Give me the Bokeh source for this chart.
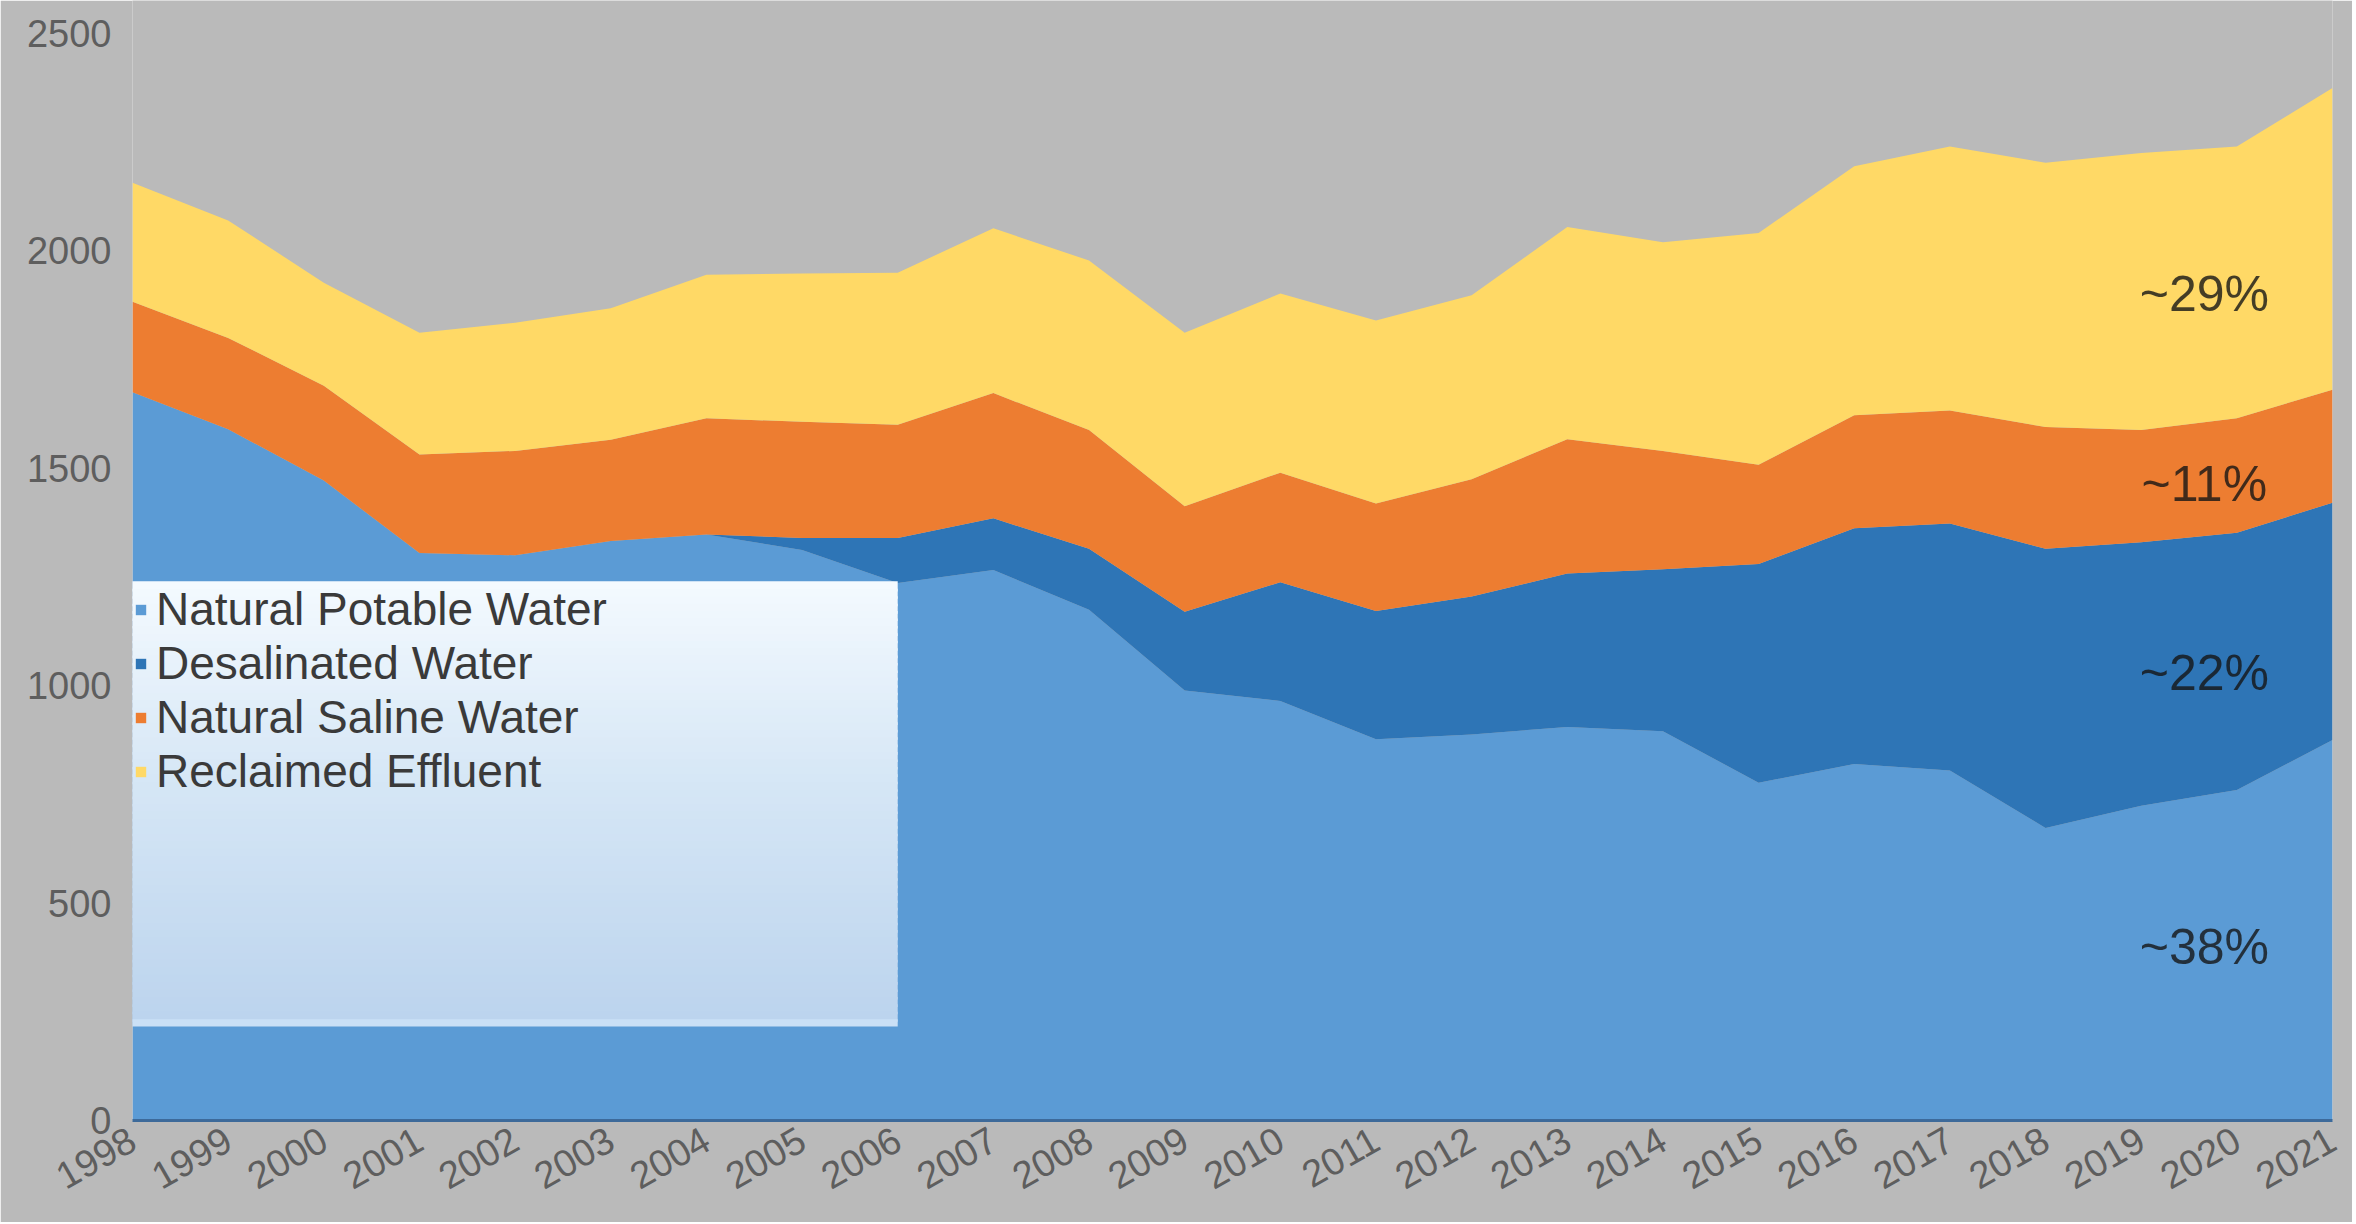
from bokeh.plotting import figure
from bokeh.models import (ColumnDataSource, Range1d, FixedTicker, Legend, LegendItem, Label)
from bokeh.embed import file_html
from bokeh.resources import INLINE

# ---------------- data ----------------
years = list(range(1998, 2022))
series_names = ["Natural Potable Water", "Desalinated Water", "Natural Saline Water", "Reclaimed Effluent"]
potable = [1675, 1590, 1472, 1305, 1300, 1333, 1348, 1312, 1236, 1266, 1175, 989,
           965, 877, 888, 905, 895, 777, 820, 805, 673, 724, 760, 875]
desalinated = [0, 0, 0, 0, 0, 0, 0, 28, 104, 119, 140, 181,
               273, 295, 317, 353, 373, 503, 542, 568, 642, 606, 592, 546]
saline = [208, 210, 218, 227, 240, 233, 267, 267, 260, 288, 273, 243,
          252, 247, 270, 309, 272, 228, 260, 260, 280, 258, 263, 260]
reclaimed = [274, 270, 237, 280, 295, 302, 330, 341, 350, 379, 390, 399,
             412, 421, 423, 488, 480, 533, 573, 607, 608, 637, 625, 694]
y_ticks = [0, 500, 1000, 1500, 2000, 2500]
share_labels = ["~29%", "~11%", "~22%", "~38%"]
share_y = [1902, 1463, 1030, 398]

colors = ["#5b9bd5", "#2e75b6", "#ed7d31", "#ffd966"]
keys = ["potable", "desal", "saline", "reclaimed"]

source = ColumnDataSource(dict(year=years, potable=potable, desal=desalinated,
                               saline=saline, reclaimed=reclaimed))

FONT = "Liberation Sans"
BG = "#bababa"

p = figure(width=2352, height=1222, output_backend="svg", toolbar_location=None,
           x_range=Range1d(1998, 2021), y_range=Range1d(0, 2576),
           min_border_left=132, min_border_right=20, min_border_top=0, min_border_bottom=102,
           background_fill_color=BG, border_fill_color=BG, outline_line_color=None)

renderers = p.varea_stack(stackers=keys, x="year", color=colors, source=source)

# legend panel with a white-to-blue gradient (decoration)
box_left, box_right, box_top, box_bottom = 1997.9, 2006.0, 1240, 216
n = 60
top_c = (244, 250, 255)
mid_c = (214, 231, 246)
bot_c = (188, 212, 238)
lefts, rights, tops, bottoms, cols = [], [], [], [], []
h = (box_top - box_bottom) / n
for i in range(n):
    t = i / (n - 1)
    if t < 0.45:
        u = t / 0.45
        c = [int(top_c[k] + (mid_c[k] - top_c[k]) * u) for k in range(3)]
    else:
        u = (t - 0.45) / 0.55
        c = [int(mid_c[k] + (bot_c[k] - mid_c[k]) * u) for k in range(3)]
    if i == n - 1:
        c = [202, 224, 246]
    tops.append(box_top - i * h)
    bottoms.append(max(box_bottom, box_top - (i + 1) * h - 6))
    lefts.append(box_left)
    rights.append(box_right)
    cols.append("#%02x%02x%02x" % tuple(c))
p.quad(left=lefts, right=rights, top=tops, bottom=bottoms, fill_color=cols, line_color=None)

legend = Legend(items=[LegendItem(label=series_names[i], renderers=[renderers[i]]) for i in range(4)],
                location=(2, 322), orientation="vertical",
                padding=0, margin=0, spacing=0,
                glyph_width=13, glyph_height=13, label_standoff=9, label_height=54,
                label_text_font=FONT, label_text_font_size="46px", label_text_color="#3a3a3a",
                background_fill_alpha=0, border_line_alpha=0)
p.add_layout(legend)

# axes
p.xgrid.visible = False
p.ygrid.visible = False

p.xaxis.ticker = FixedTicker(ticks=years)
p.xaxis.major_label_orientation = 0.52
p.xaxis.major_label_text_font = FONT
p.xaxis.major_label_text_font_size = "38px"
p.xaxis.major_label_text_color = "#5e5e5e"
p.xaxis.major_label_standoff = 10
p.xaxis.major_tick_line_color = None
p.xaxis.minor_tick_line_color = None
p.xaxis.axis_line_color = "#3d6a9a"
p.xaxis.axis_line_width = 3

p.yaxis.ticker = FixedTicker(ticks=y_ticks)
p.yaxis.major_label_text_font = FONT
p.yaxis.major_label_text_font_size = "38px"
p.yaxis.major_label_text_color = "#5e5e5e"
p.yaxis.major_label_standoff = 15
p.yaxis.major_tick_line_color = None
p.yaxis.minor_tick_line_color = None
p.yaxis.axis_line_color = None

# share annotations
for s, yv in zip(share_labels, share_y):
    p.add_layout(Label(x=2019.66, y=yv, text=s, text_align="center", text_baseline="middle",
                       text_font=FONT, text_font_size="50px", text_color="#151515",
                       text_alpha=0.8))

open("out.html", "w").write(file_html(p, INLINE))
